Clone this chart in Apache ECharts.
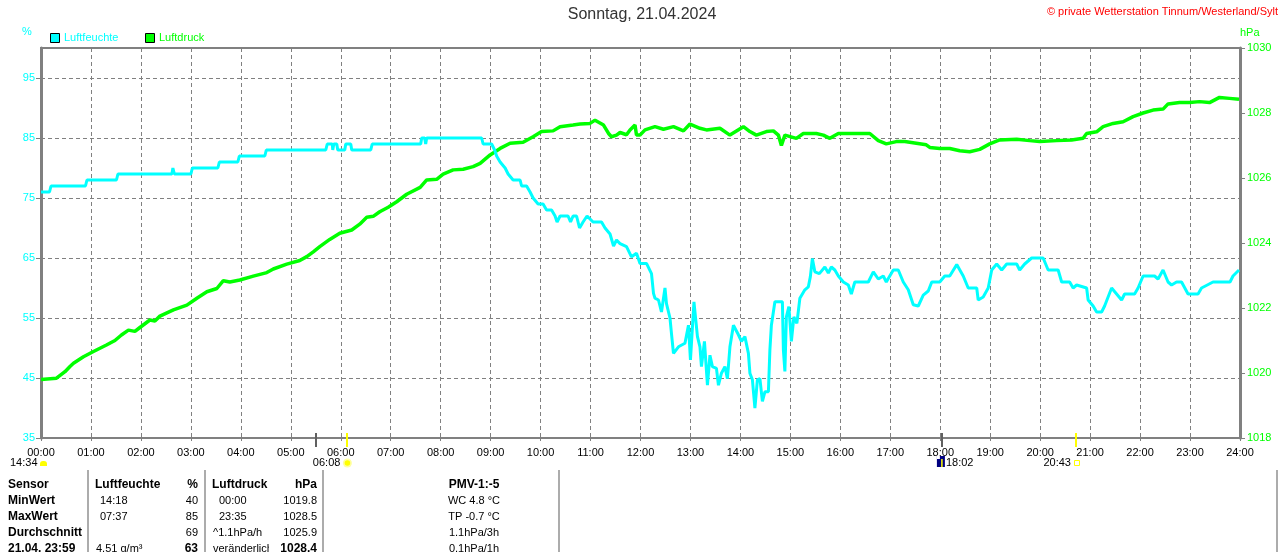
<!DOCTYPE html>
<html><head><meta charset="utf-8">
<script src="https://cdn.jsdelivr.net/npm/echarts@6/dist/echarts.min.js"></script>
<style>html,body{margin:0;padding:0;background:#fff}#c{width:1280px;height:552px}</style>
</head><body><div id="c"></div>
<script>
// ---- Data (hours since 00:00) ----
const humTime = [0,0.17,0.2,0.89,0.92,1.51,1.54,2.62,2.64,2.67,3.0,3.03,3.54,3.57,3.94,3.97,4.48,4.51,5.7,5.73,5.83,5.84,5.86,5.92,5.94,6.08,6.1,6.2,6.22,6.6,6.63,7.6,7.62,7.68,7.7,7.72,8.82,8.85,
 9.02,9.08,9.12,9.19,9.29,9.35,9.45,9.59,9.62,9.72,9.79,9.85,9.95,10.05,10.12,10.22,10.29,10.33,10.39,10.55,10.6,10.65,10.72,10.78,10.85,10.93,10.99,11.05,11.22,11.29,11.39,11.46,11.52,
 11.59,11.72,11.82,11.92,11.99,12.12,12.22,12.26,12.29,12.36,12.42,12.49,12.52,12.59,12.62,12.66,12.76,12.89,12.96,13.0,13.07,13.11,13.14,13.19,13.22,13.28,13.34,13.39,13.44,13.52,13.56,13.62,13.69,13.74,13.79,13.86,13.96,14.02,14.09,14.16,14.19,14.24,14.29,14.34,14.39,14.44,14.49,14.56,14.59,14.62,14.69,14.84,14.86,14.89,14.92,14.97,15.02,15.07,15.13,15.19,15.29,15.36,15.4,15.44,15.49,15.58,
 15.69,15.76,15.82,15.89,15.96,16.06,16.16,16.22,16.29,16.56,16.66,16.76,16.86,16.92,17.06,17.16,17.26,17.36,17.46,17.56,17.66,17.76,17.83,17.99,18.09,18.19,18.33,18.46,18.56,18.73,18.76,18.86,18.96,19.03,19.13,19.23,19.33,19.53,19.59,19.69,19.83,20.06,20.16,20.36,20.43,20.59,20.66,20.73,20.93,20.96,21.06,21.13,21.23,21.29,21.43,21.53,21.63,21.69,21.83,21.89,21.96,22.06,22.29,22.36,22.46,22.56,22.63,22.73,22.83,22.96,23.16,23.23,23.46,23.8,23.86,23.98];
const humVal = [76,76,77,77,78,78,79,79,80,79,79,80,80,81,81,82,82,83,83,84,84,83,84,84,83,83,84,84,83,83,84,84,85,85,84,85,85,84,
 84,83,82,81,80,79,78,78,77,77,76,75,74,74,73,73,72,71,72,72,71,72,72,70,71,72,71.5,71,71,70,69,67,68,
 67.4,66.9,65.2,65.8,64.1,64.1,62.4,59.1,58.3,58,56,60,57.4,55,52.4,49.1,50.2,50.8,53.8,48,57.7,57.4,51.9,50.2,46.9,51.1,43.8,48.8,46.9,46.6,43.8,45.8,46.9,44.9,50.2,53.8,52.2,51.1,51.9,49.1,45.8,44.7,40,44.7,44.9,41.1,42.7,42.7,49.7,53.8,57.7,57.7,49.7,46.1,55.2,56.9,51.1,55.2,54.1,58.3,59.7,60.2,61.9,64.9,62.7,62.4,
 63.5,62.5,63.5,63,62,61,60.5,59,61,61,62.7,61.5,62,61,63,63,61,59.7,57.2,57,58.8,59.5,61,61,62,62,63.9,62,60,60,58,58.5,60,63,64,63,64,64,63,64,65,65,63,63,61,61,60,60.5,60,58,57,56,56,57,60,59,58,59,59,59,60,62,62,61.5,63,61,60.5,61,61,59,59,60,61,61,62,63];
const presTime = [0,0.31,0.48,0.58,0.65,0.85,1.05,1.18,1.31,1.48,1.61,1.75,1.88,1.98,2.18,2.28,2.38,2.65,2.92,3.12,3.32,3.52,3.65,3.78,3.98,4.25,4.52,4.65,4.92,5.18,5.32,5.45,5.58,5.78,5.98,6.22,6.38,6.52,6.65,6.78,6.95,7.12,7.32,7.59,7.72,7.92,8.05,8.25,8.45,8.65,8.79,8.99,9.19,9.39,9.65,9.85,10.02,10.25,10.39,10.65,10.79,10.99,11.09,11.26,11.36,11.42,11.52,11.59,11.72,11.79,11.89,11.92,11.99,12.09,12.29,12.46,12.66,12.86,12.99,13.19,13.32,13.59,13.79,14.06,14.19,14.32,14.52,14.66,14.76,14.82,14.89,15.12,15.26,15.52,15.66,15.79,15.96,16.32,16.59,16.76,16.92,17.12,17.29,17.52,17.72,17.79,17.99,18.19,18.39,18.59,18.79,18.99,19.19,19.53,19.79,19.99,20.33,20.63,20.86,20.93,21.13,21.26,21.46,21.66,21.86,22.06,22.26,22.46,22.56,22.79,22.99,23.19,23.39,23.59,23.79,23.98];
const presVal = [1019.8,1019.84,1020.04,1020.2,1020.3,1020.5,1020.66,1020.76,1020.86,1021.0,1021.17,1021.32,1021.28,1021.4,1021.63,1021.6,1021.75,1021.94,1022.09,1022.3,1022.5,1022.6,1022.84,1022.8,1022.86,1022.98,1023.09,1023.2,1023.35,1023.46,1023.58,1023.73,1023.89,1024.11,1024.3,1024.4,1024.58,1024.79,1024.82,1024.96,1025.1,1025.27,1025.5,1025.71,1025.94,1025.96,1026.12,1026.25,1026.27,1026.35,1026.45,1026.71,1026.91,1027.07,1027.1,1027.27,1027.43,1027.45,1027.58,1027.63,1027.66,1027.68,1027.78,1027.63,1027.37,1027.27,1027.32,1027.4,1027.33,1027.48,1027.63,1027.32,1027.32,1027.48,1027.58,1027.5,1027.58,1027.45,1027.66,1027.53,1027.48,1027.53,1027.32,1027.58,1027.43,1027.32,1027.43,1027.45,1027.32,1027.0,1027.32,1027.22,1027.37,1027.37,1027.32,1027.22,1027.37,1027.37,1027.37,1027.15,1027.05,1027.12,1027.12,1027.07,1027.02,1026.94,1026.91,1026.91,1026.84,1026.81,1026.88,1027.05,1027.17,1027.19,1027.15,1027.12,1027.15,1027.17,1027.22,1027.37,1027.42,1027.58,1027.68,1027.73,1027.89,1028.0,1028.09,1028.12,1028.28,1028.32,1028.32,1028.35,1028.32,1028.48,1028.45,1028.42];
const humTicks = [35,45,55,65,75,85,95];
const eventTimes = [5.5, 6.133, 18.033, 20.717];
const eventColors = ['#606060', '#ffff00', '#606060', '#ffff00'];
const legendNames = ['Luftfeuchte', 'Luftdruck'];
const seriesColors = ['#00ffff', '#00ff00'];
const tableRows = [
  ['Sensor','Luftfeuchte','%','Luftdruck','hPa','PMV-1:-5'],
  ['MinWert','14:18','40','00:00','1019.8','WC 4.8 °C'],
  ['MaxWert','07:37','85','23:35','1028.5','TP -0.7 °C'],
  ['Durchschnitt','','69','^1.1hPa/h','1025.9','1.1hPa/3h'],
  ['21.04. 23:59','4.51 g/m³','63','veränderlich','1028.4','0.1hPa/1h']
];

const FONT = '"Liberation Sans", Arial, sans-serif';
const humData = humTime.map((t,i)=>[t, humVal[i]]);
const presData = presTime.map((t,i)=>[t, presVal[i]]);
const dashed = {color:'#808080', width:1, type:[4,3]};

const chart = echarts.init(document.getElementById('c'));
chart.setOption({
  animation:false,
  backgroundColor:'#fff',
  grid:{left:41,right:40,top:48,bottom:114,show:true,borderColor:'#808080',borderWidth:2},
  xAxis:{type:'value',min:0,max:24,interval:1,
    axisLine:{show:false},
    axisTick:{show:true,length:3,lineStyle:{color:'#808080'}},
    axisLabel:{formatter:v=>String(v).padStart(2,'0')+':00',color:'#000',fontSize:11,fontFamily:FONT,margin:9},
    splitLine:{show:true,lineStyle:dashed}},
  yAxis:[
    {type:'value',min:35,max:100,interval:10,position:'left',
     axisLine:{show:true,lineStyle:{color:'#808080',width:3}},
     axisTick:{show:true,length:5,customValues:humTicks,lineStyle:{color:'#808080'}},
     axisLabel:{customValues:humTicks,formatter:v=>v===100?'':String(v),color:seriesColors[0],fontSize:11,fontFamily:FONT,margin:6},
     splitLine:{show:true,lineStyle:dashed}},
    {type:'value',min:1018,max:1030,interval:2,position:'right',
     axisLine:{show:true,lineStyle:{color:'#808080',width:3}},
     axisTick:{show:true,length:5,lineStyle:{color:'#808080'}},
     axisLabel:{formatter:v=>String(v),color:seriesColors[1],fontSize:11,fontFamily:FONT,margin:7},
     splitLine:{show:false}}
  ],
  series:[
    {name:legendNames[1],type:'line',yAxisIndex:1,data:presData,symbol:'none',
     lineStyle:{width:3.5,color:seriesColors[1]},itemStyle:{color:seriesColors[1]},z:2},
    {name:legendNames[0],type:'line',yAxisIndex:0,data:humData,symbol:'none',
     lineStyle:{width:3,color:seriesColors[0]},itemStyle:{color:seriesColors[0]},z:3}
  ]
});

const px = h => chart.convertToPixel({xAxisIndex:0}, h);
const g = [];
const txt = (text,x,y,opt={}) => g.push({type:'text',silent:true,z:10,style:Object.assign({text,x,y,fill:'#000',font:'11px '+FONT,textAlign:'left',textVerticalAlign:'middle'},opt)});
const line = (x1,y1,x2,y2,stroke,w) => g.push({type:'line',silent:true,z:10,shape:{x1,y1,x2,y2},style:{stroke,lineWidth:w}});

// titles
txt('Sonntag, 21.04.2024',642,15,{font:'16px '+FONT,textAlign:'center',fill:'#333'});
txt('© private Wetterstation Tinnum/Westerland/Sylt',1278,12,{fill:'#ff0000',textAlign:'right'});
txt('%',27,32,{fill:seriesColors[0],textAlign:'center'});
txt('hPa',1240,33,{fill:seriesColors[1]});

// legend
[50,145].forEach((x,i)=>{
  g.push({type:'rect',silent:true,z:10,shape:{x:x+0.5,y:33.5,width:9,height:9},style:{fill:seriesColors[i],stroke:'#000',lineWidth:1}});
  txt(legendNames[i],x+14,38,{fill:seriesColors[i]});
});

// event ticks
eventTimes.forEach((t,i)=>{ const x=Math.round(px(t)); line(x,433,x,447,eventColors[i],2); });
// event labels
txt('14:34',10,463);
g.push({type:'rect',silent:true,z:10,shape:{x:40,y:461,width:7,height:5,r:[3,3,0,0]},style:{fill:'#ffff00'}});
const xs = px(eventTimes[1]);
txt('06:08',xs-7,463,{textAlign:'right'});
g.push({type:'circle',silent:true,z:10,shape:{cx:xs,cy:463,r:4.5},style:{fill:'#ffffa0'}});
g.push({type:'circle',silent:true,z:10,shape:{cx:xs,cy:463,r:2.8},style:{fill:'#ffff00'}});
const xm = px(eventTimes[2]);
g.push({type:'rect',silent:true,z:10,shape:{x:xm-5,y:456,width:8,height:11},style:{fill:'#000080'}});
g.push({type:'rect',silent:true,z:11,shape:{x:xm-5,y:456,width:3,height:3},style:{fill:'#ffffff'}});
line(xm,459,xm,467,'#ffff00',1.5);
txt('18:02',xm+4,463);
const xe = px(eventTimes[3]);
txt('20:43',xe-5,463,{textAlign:'right'});
g.push({type:'rect',silent:true,z:10,shape:{x:xe-1.5,y:460.5,width:5,height:5},style:{fill:'none',stroke:'#ffff00',lineWidth:1}});

// table
[88,205,323,559,1277].forEach(x=>line(x,470,x,552,'#909090',1.5));
const rowY = [485,501,517,533,549];
const B = 'bold 12px '+FONT, R = '11px '+FONT;
tableRows.forEach((r,i)=>{
  const y=rowY[i], head=i===0, last=i===4;
  txt(r[0],8,y,{font:B});
  txt(r[1],head?95:(last?96:100),y,{font:head?B:R});
  txt(r[2],198,y,{font:(head||last)?B:R,textAlign:'right'});
  txt(r[3],head?212:(i<3?219:213),y,{font:head?B:R});
  txt(r[4],317,y,{font:(head||last)?B:R,textAlign:'right'});
  txt(r[5],474,y,{font:head?B:R,textAlign:'center'});
});
// trend arrow in last row
g.push({type:'rect',silent:true,z:11,shape:{x:269,y:541,width:9,height:12},style:{fill:'#fff'}});
txt('↑',273,549,{font:'bold 12px '+FONT,textAlign:'center',fill:'#1a1a60'});

chart.setOption({graphic:g});
</script>
</body></html>
